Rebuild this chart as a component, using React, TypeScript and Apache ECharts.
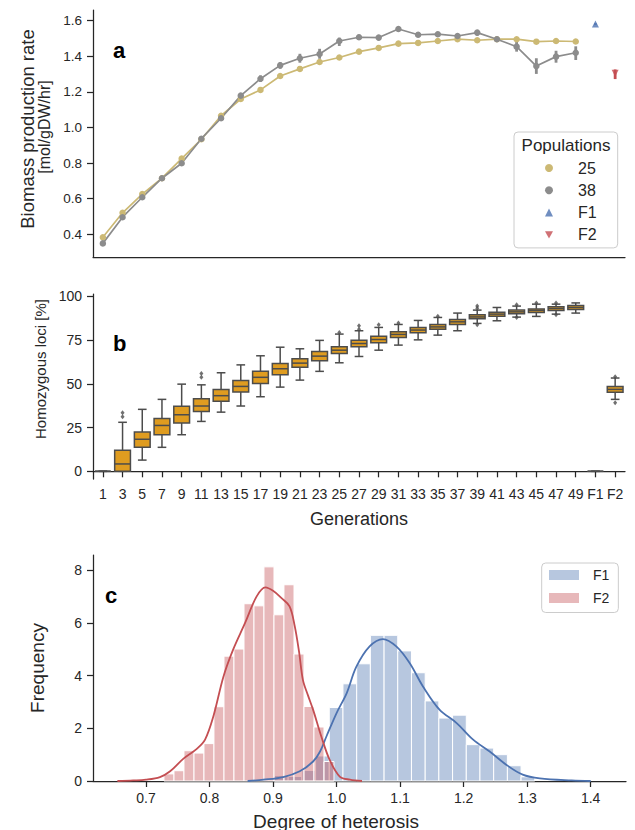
import React, { useEffect, useRef } from 'react';
import * as echarts from 'echarts';

const FONT = '"Liberation Sans", Arial, Helvetica, sans-serif';
const INK = '#262626';

// ---------- panel a: biomass production rate ----------
const generations = ['1', '3', '5', '7', '9', '11', '13', '15', '17', '19', '21', '23', '25', '27', '29', '31', '33', '35', '37', '39', '41', '43', '45', '47', '49'];
const categories = [...generations, 'F1', 'F2'];

const rate25 = [0.383, 0.521, 0.626, 0.715, 0.825, 0.934, 1.066, 1.160, 1.211, 1.289, 1.329, 1.368, 1.393, 1.426, 1.447, 1.471, 1.475, 1.486, 1.496, 1.490, 1.496, 1.496, 1.482, 1.486, 1.483];
const rate25Low = [0.377, 0.515, 0.620, 0.709, 0.819, 0.928, 1.060, 1.153, 1.203, 1.281, 1.321, 1.361, 1.386, 1.419, 1.441, 1.465, 1.469, 1.480, 1.491, 1.485, 1.491, 1.491, 1.477, 1.481, 1.478];
const rate25High = [0.389, 0.527, 0.632, 0.721, 0.831, 0.940, 1.072, 1.167, 1.219, 1.297, 1.337, 1.375, 1.400, 1.433, 1.453, 1.477, 1.481, 1.492, 1.501, 1.495, 1.501, 1.501, 1.487, 1.491, 1.488];
const rate38 = [0.349, 0.496, 0.608, 0.715, 0.799, 0.937, 1.052, 1.179, 1.274, 1.349, 1.389, 1.413, 1.486, 1.507, 1.505, 1.553, 1.521, 1.524, 1.514, 1.533, 1.496, 1.454, 1.345, 1.398, 1.420];
const rate38Low = [0.340, 0.488, 0.600, 0.708, 0.791, 0.929, 1.044, 1.170, 1.256, 1.330, 1.364, 1.386, 1.458, 1.492, 1.490, 1.541, 1.506, 1.510, 1.502, 1.516, 1.482, 1.426, 1.301, 1.364, 1.379];
const rate38High = [0.358, 0.504, 0.616, 0.722, 0.808, 0.945, 1.060, 1.188, 1.293, 1.367, 1.414, 1.442, 1.505, 1.522, 1.520, 1.565, 1.536, 1.538, 1.526, 1.548, 1.510, 1.482, 1.389, 1.431, 1.456];
const rateF1 = 1.581;
const rateF1Low = 1.577;
const rateF1High = 1.585;
const rateF2 = 1.305;
const rateF2Low = 1.272;
const rateF2High = 1.326;
const rateTicks = [0.4, 0.6, 0.8, 1.0, 1.2, 1.4, 1.6];

// ---------- panel b: homozygous loci boxplots (gen 1..49, F1, F2) ----------
const homLow = [0, 0, 6.4, 13.7, 20.9, 28.5, 33.8, 37.3, 42.6, 48.1, 52.1, 57.1, 62.0, 65.6, 69.2, 72.1, 75.1, 77.8, 80.3, 84.5, 86.0, 88.1, 88.5, 89.8, 90.4, 0, 41.1];
const homQ1 = [0, 0, 13.7, 20.9, 27.6, 34.2, 40.0, 45.3, 50.2, 55.1, 59.4, 63.1, 67.3, 71.1, 73.4, 76.5, 79.1, 81.2, 83.9, 87.1, 88.6, 90.0, 90.7, 91.9, 92.5, 0, 45.1];
const homMedian = [0, 4.2, 18.3, 26.2, 32.3, 37.3, 43.2, 48.5, 53.7, 58.6, 61.8, 65.8, 69.2, 73.0, 75.3, 78.2, 80.7, 82.5, 85.4, 88.2, 89.8, 91.1, 91.9, 93.0, 93.6, 0, 46.8];
const homQ3 = [0, 12.0, 22.4, 30.2, 37.1, 41.4, 46.8, 51.9, 57.1, 61.6, 64.3, 68.5, 71.1, 74.9, 77.2, 79.7, 82.2, 83.9, 86.8, 89.4, 90.9, 92.1, 92.8, 94.0, 94.7, 0, 48.5];
const homHigh = [0, 28.0, 35.4, 41.1, 49.8, 49.4, 56.3, 60.8, 66.0, 70.9, 70.0, 74.8, 78.4, 80.3, 82.2, 83.9, 86.2, 87.9, 90.4, 92.1, 93.6, 94.4, 95.5, 95.5, 96.2, 0, 53.3];
const outlierCategory = ['3', '3', '11', '11', '25', '27', '27', '29', '31', '35', '39', '39', '39', '43', '43', '45', '47', '47', 'F2', 'F2'];
const outlierValue = [33.5, 31.2, 55.9, 53.7, 79.3, 83.1, 81.2, 83.7, 84.8, 88.6, 94.4, 93.2, 83.7, 95.1, 87.9, 96.2, 96.2, 89.4, 54.0, 39.2];
const homTicks = [0, 25, 50, 75, 100];

// ---------- panel c: degree of heterosis ----------
const f1Edges = [0.9023, 0.9238, 0.9454, 0.9670, 0.9885, 1.0101, 1.0317, 1.0532, 1.0748, 1.0963, 1.1179, 1.1395, 1.1610, 1.1826, 1.2042, 1.2257, 1.2473, 1.2689, 1.2904, 1.3120];
const f1Density = [0.21, 0.17, 0.40, 0.95, 2.79, 3.69, 4.45, 5.53, 5.53, 4.94, 4.11, 3.04, 2.39, 2.50, 1.38, 1.25, 1.00, 0.58, 0.16];
const f2Edges = [0.7283, 0.7441, 0.7598, 0.7756, 0.7913, 0.8070, 0.8228, 0.8385, 0.8543, 0.8700, 0.8857, 0.9015, 0.9172, 0.9330, 0.9487, 0.9644, 0.9802, 0.9959];
const f2Density = [0.27, 0.39, 1.15, 1.06, 1.42, 2.82, 4.74, 5.01, 6.73, 6.65, 8.13, 6.31, 7.45, 4.82, 2.83, 2.05, 0.74];
const f1KdeX = [0.86, 0.885, 0.916, 0.942, 0.963, 0.974, 0.984, 1.0, 1.016, 1.031, 1.052, 1.073, 1.094, 1.115, 1.136, 1.162, 1.189, 1.215, 1.241, 1.267, 1.293, 1.32, 1.37, 1.40];
const f1KdeY = [0.0, 0.05, 0.15, 0.37, 0.74, 1.12, 1.69, 2.58, 3.34, 4.33, 5.11, 5.39, 5.11, 4.48, 3.59, 2.71, 2.20, 1.57, 1.12, 0.62, 0.24, 0.10, 0.02, 0.0];
const f2KdeX = [0.655, 0.68, 0.70, 0.722, 0.738, 0.759, 0.78, 0.793, 0.806, 0.822, 0.837, 0.856, 0.874, 0.888, 0.90, 0.913, 0.926, 0.934, 0.941, 0.947, 0.955, 0.963, 0.976, 0.989, 1.005, 1.021, 1.04];
const f2KdeY = [0.0, 0.02, 0.05, 0.15, 0.37, 0.85, 1.22, 1.57, 2.45, 3.97, 4.98, 6.0, 7.0, 7.35, 7.22, 6.95, 6.63, 5.9, 4.9, 3.84, 3.25, 2.71, 1.69, 0.81, 0.17, 0.05, 0.0];
const heterosisTicks = [0.7, 0.8, 0.9, 1.0, 1.1, 1.2, 1.3, 1.4];
const frequencyTicks = [0, 2, 4, 6, 8];

const C25 = '#CCB974';
const C38 = '#8C8C8C';
const CBLUE = '#4C72B0';
const CRED = '#C44E52';
const CBOX = '#DF9C20';
const CGRAY = '#4c4c4c';

const axisLine = { show: true, lineStyle: { color: INK, width: 1.25 } };
const axisTick = { show: true, length: 6, lineStyle: { color: INK, width: 1.25 } };

function errorBarSeries(name: string, rows: number[][], color: string) {
  return {
    name,
    type: 'custom',
    xAxisIndex: 0,
    yAxisIndex: 0,
    z: 2,
    data: rows,
    encode: { x: 0, y: [1, 2] },
    renderItem: (params: any, api: any) => {
      const i = api.value(0);
      const p1 = api.coord([i, api.value(1)]);
      const p2 = api.coord([i, api.value(2)]);
      return {
        type: 'line',
        shape: { x1: p1[0], y1: p1[1], x2: p2[0], y2: p2[1] },
        style: { stroke: color, lineWidth: 2.8 },
      };
    },
  };
}

function histSeries(name: string, edges: number[], dens: number[], fill: string) {
  const rows = dens.map((h, k) => [edges[k], edges[k + 1], h]);
  return {
    name,
    type: 'custom',
    xAxisIndex: 2,
    yAxisIndex: 2,
    itemStyle: { color: fill },
    data: rows,
    encode: { x: [0, 1], y: 2 },
    renderItem: (params: any, api: any) => {
      const a = api.coord([api.value(0), api.value(2)]);
      const b = api.coord([api.value(1), 0]);
      return {
        type: 'rect',
        shape: { x: a[0], y: a[1], width: b[0] - a[0], height: b[1] - a[1] },
        style: { fill, stroke: '#ffffff', lineWidth: 1 },
      };
    },
  };
}

function vText(text: string, x: number, y: number, size: number) {
  return {
    type: 'text', x, y, rotation: Math.PI / 2,
    style: { text, font: `${size}px ${FONT}`, fill: INK, align: 'center', verticalAlign: 'middle' },
  };
}

function hText(text: string, x: number, y: number, size: number, z = 1) {
  return {
    type: 'text', x, y, z,
    style: { text, font: `${size}px ${FONT}`, fill: INK, align: 'center', verticalAlign: 'middle' },
  };
}

function buildOption() {
  const err25 = rate25.map((v, i) => [i, rate25Low[i], rate25High[i]]);
  const err38 = rate38.map((v, i) => [i, rate38Low[i], rate38High[i]]);
  const boxRows = categories.map((c, i) => [i, homLow[i], homQ1[i], homMedian[i], homQ3[i], homHigh[i]]);
  const fliers = outlierCategory.map((c, k) => [c, outlierValue[k]]);

  return {
    animation: false,
    textStyle: { fontFamily: FONT, color: INK },
    grid: [
      { left: 93, right: 10, top: 10, height: 247 },
      { left: 93, right: 10, top: 294, height: 185 },
      { left: 93, right: 9, top: 555, height: 226 },
    ],
    xAxis: [
      {
        type: 'category', gridIndex: 0, data: categories,
        axisLine, axisTick: { show: false }, axisLabel: { show: false }, splitLine: { show: false },
      },
      {
        type: 'category', gridIndex: 1, data: categories,
        axisLine,
        axisTick: { ...axisTick, alignWithLabel: true, interval: 0 },
        axisLabel: { interval: 0, fontSize: 14, color: INK, margin: 8, fontFamily: FONT },
        splitLine: { show: false },
      },
      {
        type: 'value', gridIndex: 2, min: 0.6166, max: 1.4556,
        axisLine,
        axisTick: { ...axisTick, customValues: heterosisTicks },
        axisLabel: { customValues: heterosisTicks, fontSize: 14, color: INK, margin: 10, fontFamily: FONT, formatter: (v: number) => v.toFixed(1) },
        splitLine: { show: false },
      },
    ],
    yAxis: [
      {
        type: 'value', gridIndex: 0, min: 0.2725, max: 1.66,
        axisLine,
        axisTick: { ...axisTick, customValues: rateTicks },
        axisLabel: { customValues: rateTicks, fontSize: 13.5, color: INK, margin: 11, fontFamily: FONT, formatter: (v: number) => v.toFixed(1) },
        splitLine: { show: false },
      },
      {
        type: 'value', gridIndex: 1, min: -4.4, max: 101.3,
        axisLine,
        axisTick: { ...axisTick, customValues: homTicks },
        axisLabel: { customValues: homTicks, fontSize: 14, color: INK, margin: 11, fontFamily: FONT },
        splitLine: { show: false },
      },
      {
        type: 'value', gridIndex: 2, min: 0, max: 8.58,
        axisLine,
        axisTick: { ...axisTick, customValues: frequencyTicks },
        axisLabel: { customValues: frequencyTicks, fontSize: 14, color: INK, margin: 11, fontFamily: FONT },
        splitLine: { show: false },
      },
    ],
    legend: [
      {
        orient: 'vertical', left: 514, top: 132, selectedMode: false,
        padding: [28, 21, 5, 31], itemGap: 6.3, itemWidth: 8, itemHeight: 8,
        borderColor: '#cccccc', borderWidth: 1, borderRadius: 4, backgroundColor: 'rgba(255,255,255,0.85)',
        textStyle: { fontSize: 16, color: INK, fontFamily: FONT, lineHeight: 16, padding: [0, 0, 0, 20] },
        data: [
          { name: '25', icon: 'circle' },
          { name: '38', icon: 'circle' },
          { name: 'F1', icon: 'triangle' },
          { name: 'F2', icon: 'path://M0,0L10,0L5,9Z' },
        ],
      },
      {
        orient: 'vertical', left: 541.7, top: 563, selectedMode: false,
        padding: [4.5, 9, 7, 7.3], itemGap: 8, itemWidth: 30, itemHeight: 10,
        borderColor: '#cccccc', borderWidth: 1, borderRadius: 4, backgroundColor: 'rgba(255,255,255,0.85)',
        textStyle: { fontSize: 14, color: INK, fontFamily: FONT, lineHeight: 15, padding: [0, 0, 0, 9] },
        formatter: (n: string) => n.trim(),
        data: [
          { name: 'F1 ', icon: 'rect', itemStyle: { color: 'rgba(76,114,176,0.4)' } },
          { name: 'F2 ', icon: 'rect', itemStyle: { color: 'rgba(196,78,82,0.4)' } },
        ],
      },
    ],
    graphic: [
      { type: 'text', x: 113, y: 39, style: { text: 'a', font: `bold 22px ${FONT}`, fill: '#000', verticalAlign: 'alphabetic' } },
      { type: 'text', x: 113, y: 332, style: { text: 'b', font: `bold 22px ${FONT}`, fill: '#000', verticalAlign: 'alphabetic' } },
      { type: 'text', x: 105, y: 584, style: { text: 'c', font: `bold 22px ${FONT}`, fill: '#000', verticalAlign: 'alphabetic' } },
      vText('Biomass production rate', 27, 129, 18.5),
      vText('[mol/gDW/hr]', 44, 127, 16),
      vText('Homozygous loci [%]', 40, 369, 15),
      vText('Frequency', 37, 668, 19),
      hText('Generations', 359, 519, 18),
      hText('Degree of heterosis', 336, 821, 19),
      hText('Populations', 566, 145, 17, 100),
    ],
    series: [
      errorBarSeries('25 ci', err25, C25),
      errorBarSeries('38 ci', err38, C38),
      errorBarSeries('F1 ci', [[25, rateF1Low, rateF1High]], CBLUE),
      errorBarSeries('F2 ci', [[26, rateF2Low, rateF2High]], CRED),
      {
        name: '25', type: 'line', xAxisIndex: 0, yAxisIndex: 0, z: 3,
        data: rate25, symbol: 'circle', symbolSize: 6.5, color: C25,
        lineStyle: { width: 1.7, color: C25 }, itemStyle: { color: C25 },
      },
      {
        name: '38', type: 'line', xAxisIndex: 0, yAxisIndex: 0, z: 3,
        data: rate38, symbol: 'circle', symbolSize: 6.5, color: C38,
        lineStyle: { width: 1.7, color: C38 }, itemStyle: { color: C38 },
      },
      {
        name: 'F1', type: 'scatter', xAxisIndex: 0, yAxisIndex: 0, z: 3,
        data: [['F1', rateF1]], symbol: 'triangle', symbolSize: 7, color: CBLUE, itemStyle: { color: CBLUE },
      },
      {
        name: 'F2', type: 'scatter', xAxisIndex: 0, yAxisIndex: 0, z: 3,
        data: [['F2', rateF2]], symbol: 'triangle', symbolRotate: 180, symbolSize: 7, color: CRED, itemStyle: { color: CRED },
      },
      {
        name: 'homozygous', type: 'custom', xAxisIndex: 1, yAxisIndex: 1,
        data: boxRows, encode: { x: 0, y: [1, 2, 3, 4, 5] },
        renderItem: (params: any, api: any) => {
          const i = api.value(0);
          const pLo = api.coord([i, api.value(1)]);
          const pQ1 = api.coord([i, api.value(2)]);
          const pMed = api.coord([i, api.value(3)]);
          const pQ3 = api.coord([i, api.value(4)]);
          const pHi = api.coord([i, api.value(5)]);
          const band = api.size([1, 0])[0];
          const w = band * 0.8;
          const cap = w * 0.55;
          const cx = pMed[0];
          const ls = { stroke: CGRAY, lineWidth: 1.5 };
          return {
            type: 'group',
            children: [
              { type: 'line', shape: { x1: cx, y1: pQ3[1], x2: cx, y2: pHi[1] }, style: ls },
              { type: 'line', shape: { x1: cx, y1: pQ1[1], x2: cx, y2: pLo[1] }, style: ls },
              { type: 'line', shape: { x1: cx - cap / 2, y1: pHi[1], x2: cx + cap / 2, y2: pHi[1] }, style: ls },
              { type: 'line', shape: { x1: cx - cap / 2, y1: pLo[1], x2: cx + cap / 2, y2: pLo[1] }, style: ls },
              { type: 'rect', shape: { x: cx - w / 2, y: pQ3[1], width: w, height: pQ1[1] - pQ3[1] }, style: { fill: CBOX, stroke: CGRAY, lineWidth: 1.5 } },
              { type: 'line', shape: { x1: cx - w / 2, y1: pMed[1], x2: cx + w / 2, y2: pMed[1] }, style: ls },
            ],
          };
        },
      },
      {
        name: 'outliers', type: 'scatter', xAxisIndex: 1, yAxisIndex: 1,
        data: fliers, symbol: 'diamond', symbolSize: [4, 5], itemStyle: { color: CGRAY },
      },
      histSeries('F1 ', f1Edges, f1Density, 'rgba(76,114,176,0.4)'),
      histSeries('F2 ', f2Edges, f2Density, 'rgba(196,78,82,0.4)'),
      {
        name: 'F1 kde', type: 'line', xAxisIndex: 2, yAxisIndex: 2, z: 4,
        data: f1KdeX.map((x, k) => [x, f1KdeY[k]]), showSymbol: false, smooth: 0.35,
        lineStyle: { color: CBLUE, width: 1.8 }, itemStyle: { color: CBLUE },
      },
      {
        name: 'F2 kde', type: 'line', xAxisIndex: 2, yAxisIndex: 2, z: 4,
        data: f2KdeX.map((x, k) => [x, f2KdeY[k]]), showSymbol: false, smooth: 0.35,
        lineStyle: { color: CRED, width: 1.8 }, itemStyle: { color: CRED },
      },
    ],
  };
}

export default function App() {
  const ref = useRef<HTMLDivElement>(null);
  useEffect(() => {
    if (!ref.current) return;
    const chart = echarts.init(ref.current, undefined, { renderer: 'svg' });
    chart.setOption(buildOption() as any);
    return () => chart.dispose();
  }, []);
  return <div ref={ref} style={{ position: 'absolute', left: 0, top: 0, width: 635, height: 830 }} />;
}
